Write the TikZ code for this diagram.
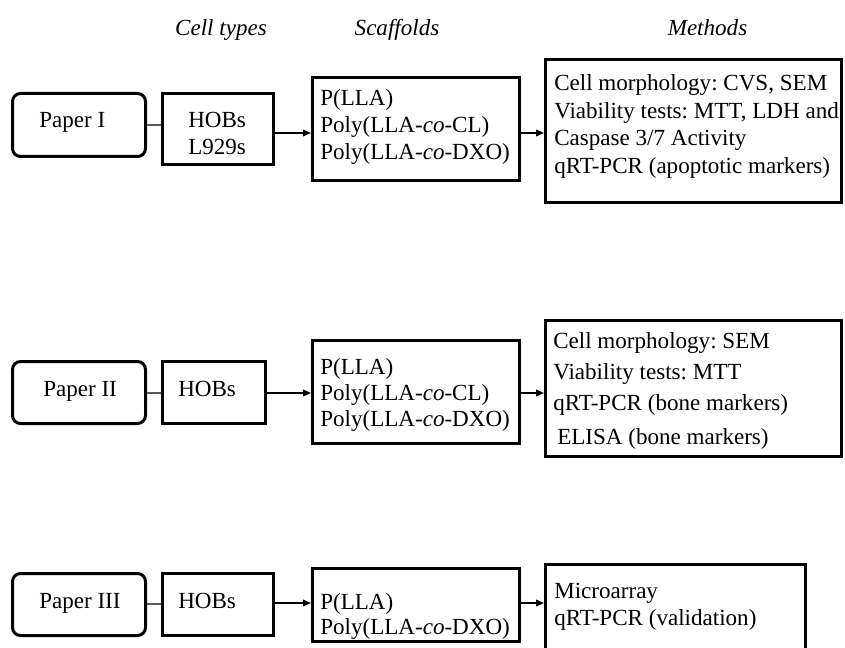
\documentclass[tikz,border=0pt]{standalone}
\usepackage{fontspec}
\setmainfont{Liberation Serif}
\usetikzlibrary{arrows.meta}
\frenchspacing
\begin{document}
\begin{tikzpicture}[x=0.75pt,y=-0.75pt,
  frame/.style={draw, line width=2.25pt, inner sep=0pt},
  rframe/.style={frame, rounded corners=6pt},
  txt/.style={anchor=north west, inner sep=0pt, align=left,
    font={\fontsize{17.3pt}{#1}\selectfont}},
  txt/.default=20.25pt,
  head/.style={anchor=north, inner sep=0pt,
    font={\fontsize{17.3pt}{20pt}\selectfont\itshape}},
  link/.style={line width=1.1pt, draw=black!65},
  flow/.style={line width=1.1pt, -{Triangle[length=6pt,width=5pt]}}]
\useasboundingbox (0,0) rectangle (845,648);
\begin{scope}
\clip (0,0) rectangle (845,648);

% column headings
\node[head] (hcell) at (221,19) {Cell types};
\node[head] (hscaf) at (397,19) {Scaffolds};
\node[head] (hmeth) at (707.5,19) {Methods};

% ---- Paper I ----
\node[rframe, minimum width=99.75pt, minimum height=47.25pt] (p1) at (79,125) {};
\node[frame, minimum width=83.25pt, minimum height=53.25pt] (c1) at (218,129) {};
\node[frame, minimum width=155.25pt, minimum height=77.25pt] (s1) at (416,129) {};
\node[frame, minimum width=222pt, minimum height=107.25pt] (m1) at (693.5,131) {};
\node[txt] (p1t) at (39,112) {Paper I};
\node[txt=20.25pt] (c1t) at (188,112) {HOBs\\L929s};
\node[txt=20.25pt] (s1t) at (320,89) {P(LLA)\\Poly(LLA-\textit{co}-CL)\\Poly(LLA-\textit{co}-DXO)};
\node[txt=20.8pt] (m1t) at (554,74) {Cell morphology: CVS, SEM\\Viability tests: MTT, LDH and\\Caspase 3/7 Activity\\qRT-PCR (apoptotic markers)};
\draw[link] (p1.east |- 0,125) -- (c1.west |- 0,125);
\draw[flow] (c1.east |- 0,133) -- (s1.west |- 0,133);
\draw[flow] (s1.east |- 0,133) -- (m1.west |- 0,133);

% ---- Paper II ----
\node[rframe, minimum width=99.75pt, minimum height=46.5pt] (p2) at (79,392.5) {};
\node[frame, minimum width=77.25pt, minimum height=46.5pt] (c2) at (214,392.5) {};
\node[frame, minimum width=155.25pt, minimum height=77.25pt] (s2) at (416,392) {};
\node[frame, minimum width=222pt, minimum height=102pt] (m2) at (693.5,388.5) {};
\node[txt] (p2t) at (43,381) {Paper II};
\node[txt] (c2t) at (178,381) {HOBs};
\node[txt=19.5pt] (s2t) at (320,358) {P(LLA)\\Poly(LLA-\textit{co}-CL)\\Poly(LLA-\textit{co}-DXO)};
\node[txt=23.5pt] (m2t) at (553,332) {Cell morphology: SEM\\Viability tests: MTT\\qRT-PCR (bone markers)\\[2pt]\hspace{3pt}ELISA (bone markers)};
\draw[link] (p2.east |- 0,393) -- (c2.west |- 0,393);
\draw[flow] (c2.east |- 0,393) -- (s2.west |- 0,393);
\draw[flow] (s2.east |- 0,393) -- (m2.west |- 0,393);

% ---- Paper III ----
\node[rframe, minimum width=99.75pt, minimum height=46.5pt] (p3) at (79,604.5) {};
\node[frame, minimum width=83.25pt, minimum height=46.5pt] (c3) at (218,604.5) {};
\node[frame, minimum width=155.25pt, minimum height=54.75pt] (s3) at (416,605) {};
\node[frame, minimum width=195pt, minimum height=85.5pt] (m3) at (675.5,621.5) {};
\node[txt] (p3t) at (39,593) {Paper III};
\node[txt] (c3t) at (178,593) {HOBs};
\node[txt=18.75pt] (s3t) at (320,593) {P(LLA)\\Poly(LLA-\textit{co}-DXO)};
\node[txt=20.25pt] (m3t) at (554,583) {Microarray\\qRT-PCR (validation)};
\draw[link] (p3.east |- 0,604) -- (c3.west |- 0,604);
\draw[flow] (c3.east |- 0,603) -- (s3.west |- 0,603);
\draw[flow] (s3.east |- 0,603) -- (m3.west |- 0,603);
\end{scope}
\end{tikzpicture}
\end{document}
